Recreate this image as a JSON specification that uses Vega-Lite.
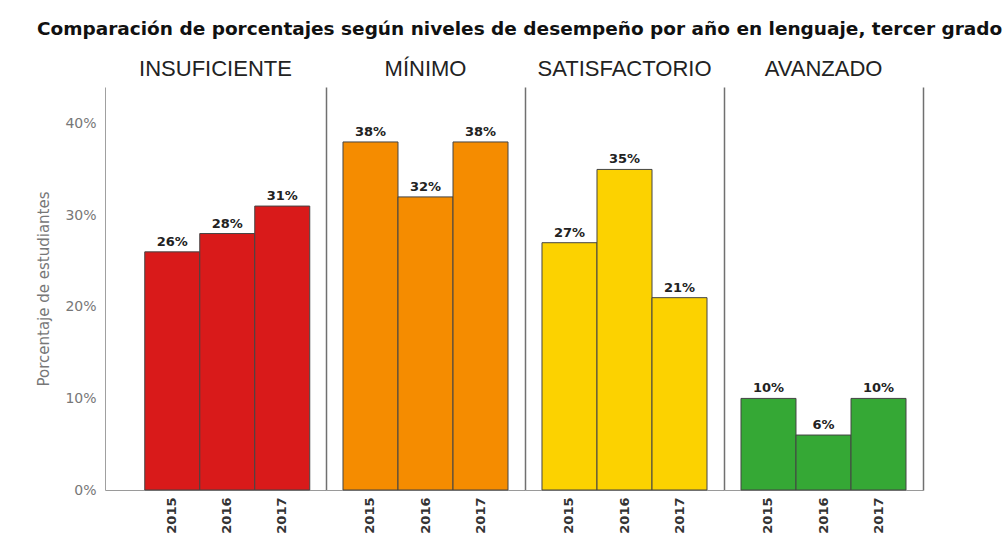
{
  "$schema": "https://vega.github.io/schema/vega-lite/v6.json",
  "background": "white",
  "padding": {"left": 36, "right": 5, "top": 19, "bottom": 5},
  "title": {"text": "Comparación de porcentajes según niveles de desempeño por año en lenguaje, tercer grado", "font": "DejaVu Sans", "fontSize": 18.5, "fontWeight": "bold", "color": "#111111", "anchor": "start", "frame": "bounds", "offset": 20},
  "data": {"values": [
    {"nivel": "INSUFICIENTE", "anio": "2015", "pct": 0.26},
    {"nivel": "INSUFICIENTE", "anio": "2016", "pct": 0.28},
    {"nivel": "INSUFICIENTE", "anio": "2017", "pct": 0.31},
    {"nivel": "MÍNIMO", "anio": "2015", "pct": 0.38},
    {"nivel": "MÍNIMO", "anio": "2016", "pct": 0.32},
    {"nivel": "MÍNIMO", "anio": "2017", "pct": 0.38},
    {"nivel": "SATISFACTORIO", "anio": "2015", "pct": 0.27},
    {"nivel": "SATISFACTORIO", "anio": "2016", "pct": 0.35},
    {"nivel": "SATISFACTORIO", "anio": "2017", "pct": 0.21},
    {"nivel": "AVANZADO", "anio": "2015", "pct": 0.10},
    {"nivel": "AVANZADO", "anio": "2016", "pct": 0.06},
    {"nivel": "AVANZADO", "anio": "2017", "pct": 0.10}
  ]},
  "spacing": 0,
  "bounds": "flush",
  "hconcat": [
    {
      "width": 221, "height": 403,
      "title": {"text": "INSUFICIENTE", "font": "Liberation Sans", "fontSize": 22, "fontWeight": "normal", "color": "#222222", "offset": 6},
      "transform": [{"filter": "datum.nivel === 'INSUFICIENTE'"}],
      "layer": [
        {"mark": {"type": "bar", "color": "#d91a1a", "stroke": "#444444", "strokeWidth": 1},
         "encoding": {
           "x": {"field": "anio", "type": "nominal", "sort": null, "scale": {"domain": ["2015", "2016", "2017"], "paddingInner": 0, "paddingOuter": 0.509, "align": 0.71}, "axis": {"title": null, "labelAngle": -90, "ticks": false, "domainColor": "#9a9a9a", "labelFont": "DejaVu Sans", "labelFontWeight": "bold", "labelFontSize": 13, "labelColor": "#333333", "labelPadding": 7}},
           "y": {"field": "pct", "type": "quantitative", "scale": {"domain": [0, 0.44], "nice": false}, "axis": {"orient": "left", "format": ".0%", "values": [0, 0.1, 0.2, 0.3, 0.4], "ticks": false, "grid": false, "domainColor": "#a0a0a0", "labelColor": "#777777", "labelFont": "DejaVu Sans", "labelFontSize": 14, "labelPadding": 9, "title": "Porcentaje de estudiantes", "titleFont": "DejaVu Sans", "titleFontSize": 15, "titleFontWeight": "normal", "titleColor": "#777777", "titlePadding": 13}}
         }},
        {"mark": {"type": "text", "baseline": "bottom", "dy": -3, "font": "DejaVu Sans", "fontWeight": "bold", "fontSize": 13, "color": "#222222"},
         "encoding": {
           "x": {"field": "anio", "type": "nominal", "sort": null, "axis": {"title": null, "labelAngle": -90, "ticks": false, "domainColor": "#9a9a9a", "labelFont": "DejaVu Sans", "labelFontWeight": "bold", "labelFontSize": 13, "labelColor": "#333333", "labelPadding": 7}},
           "y": {"field": "pct", "type": "quantitative", "axis": {"orient": "right", "labels": false, "ticks": false, "grid": false, "title": null, "domain": true, "domainColor": "#707070", "domainWidth": 1.5}},
           "text": {"field": "pct", "format": ".0%"}
         }}
      ],
      "resolve": {"axis": {"y": "independent"}}
    },
    {
      "width": 199, "height": 403,
      "title": {"text": "MÍNIMO", "font": "Liberation Sans", "fontSize": 22, "fontWeight": "normal", "color": "#222222", "offset": 6},
      "transform": [{"filter": "datum.nivel === 'MÍNIMO'"}],
      "layer": [
        {"mark": {"type": "bar", "color": "#f58c00", "stroke": "#444444", "strokeWidth": 1},
         "encoding": {
           "x": {"field": "anio", "type": "nominal", "sort": null, "scale": {"domain": ["2015", "2016", "2017"], "paddingInner": 0, "paddingOuter": 0.309}, "axis": {"title": null, "labelAngle": -90, "ticks": false, "domainColor": "#9a9a9a", "labelFont": "DejaVu Sans", "labelFontWeight": "bold", "labelFontSize": 13, "labelColor": "#333333", "labelPadding": 7}},
           "y": {"field": "pct", "type": "quantitative", "scale": {"domain": [0, 0.44], "nice": false}, "axis": null}
         }},
        {"mark": {"type": "text", "baseline": "bottom", "dy": -3, "font": "DejaVu Sans", "fontWeight": "bold", "fontSize": 13, "color": "#222222"},
         "encoding": {
           "x": {"field": "anio", "type": "nominal", "sort": null, "axis": {"title": null, "labelAngle": -90, "ticks": false, "domainColor": "#9a9a9a", "labelFont": "DejaVu Sans", "labelFontWeight": "bold", "labelFontSize": 13, "labelColor": "#333333", "labelPadding": 7}},
           "y": {"field": "pct", "type": "quantitative", "axis": {"orient": "right", "labels": false, "ticks": false, "grid": false, "title": null, "domain": true, "domainColor": "#707070", "domainWidth": 1.5}},
           "text": {"field": "pct", "format": ".0%"}
         }}
      ],
      "resolve": {"axis": {"y": "independent"}}
    },
    {
      "width": 199, "height": 403,
      "title": {"text": "SATISFACTORIO", "font": "Liberation Sans", "fontSize": 22, "fontWeight": "normal", "color": "#222222", "offset": 6},
      "transform": [{"filter": "datum.nivel === 'SATISFACTORIO'"}],
      "layer": [
        {"mark": {"type": "bar", "color": "#fcd200", "stroke": "#444444", "strokeWidth": 1},
         "encoding": {
           "x": {"field": "anio", "type": "nominal", "sort": null, "scale": {"domain": ["2015", "2016", "2017"], "paddingInner": 0, "paddingOuter": 0.309}, "axis": {"title": null, "labelAngle": -90, "ticks": false, "domainColor": "#9a9a9a", "labelFont": "DejaVu Sans", "labelFontWeight": "bold", "labelFontSize": 13, "labelColor": "#333333", "labelPadding": 7}},
           "y": {"field": "pct", "type": "quantitative", "scale": {"domain": [0, 0.44], "nice": false}, "axis": null}
         }},
        {"mark": {"type": "text", "baseline": "bottom", "dy": -3, "font": "DejaVu Sans", "fontWeight": "bold", "fontSize": 13, "color": "#222222"},
         "encoding": {
           "x": {"field": "anio", "type": "nominal", "sort": null, "axis": {"title": null, "labelAngle": -90, "ticks": false, "domainColor": "#9a9a9a", "labelFont": "DejaVu Sans", "labelFontWeight": "bold", "labelFontSize": 13, "labelColor": "#333333", "labelPadding": 7}},
           "y": {"field": "pct", "type": "quantitative", "axis": {"orient": "right", "labels": false, "ticks": false, "grid": false, "title": null, "domain": true, "domainColor": "#707070", "domainWidth": 1.5}},
           "text": {"field": "pct", "format": ".0%"}
         }}
      ],
      "resolve": {"axis": {"y": "independent"}}
    },
    {
      "width": 199, "height": 403,
      "title": {"text": "AVANZADO", "font": "Liberation Sans", "fontSize": 22, "fontWeight": "normal", "color": "#222222", "offset": 6},
      "transform": [{"filter": "datum.nivel === 'AVANZADO'"}],
      "layer": [
        {"mark": {"type": "bar", "color": "#35a835", "stroke": "#444444", "strokeWidth": 1},
         "encoding": {
           "x": {"field": "anio", "type": "nominal", "sort": null, "scale": {"domain": ["2015", "2016", "2017"], "paddingInner": 0, "paddingOuter": 0.309}, "axis": {"title": null, "labelAngle": -90, "ticks": false, "domainColor": "#9a9a9a", "labelFont": "DejaVu Sans", "labelFontWeight": "bold", "labelFontSize": 13, "labelColor": "#333333", "labelPadding": 7}},
           "y": {"field": "pct", "type": "quantitative", "scale": {"domain": [0, 0.44], "nice": false}, "axis": null}
         }},
        {"mark": {"type": "text", "baseline": "bottom", "dy": -3, "font": "DejaVu Sans", "fontWeight": "bold", "fontSize": 13, "color": "#222222"},
         "encoding": {
           "x": {"field": "anio", "type": "nominal", "sort": null, "axis": {"title": null, "labelAngle": -90, "ticks": false, "domainColor": "#9a9a9a", "labelFont": "DejaVu Sans", "labelFontWeight": "bold", "labelFontSize": 13, "labelColor": "#333333", "labelPadding": 7}},
           "y": {"field": "pct", "type": "quantitative", "axis": {"orient": "right", "labels": false, "ticks": false, "grid": false, "title": null, "domain": true, "domainColor": "#707070", "domainWidth": 1.5}},
           "text": {"field": "pct", "format": ".0%"}
         }}
      ],
      "resolve": {"axis": {"y": "independent"}}
    }
  ],
  "config": {
    "view": {"stroke": null}
  }
}
